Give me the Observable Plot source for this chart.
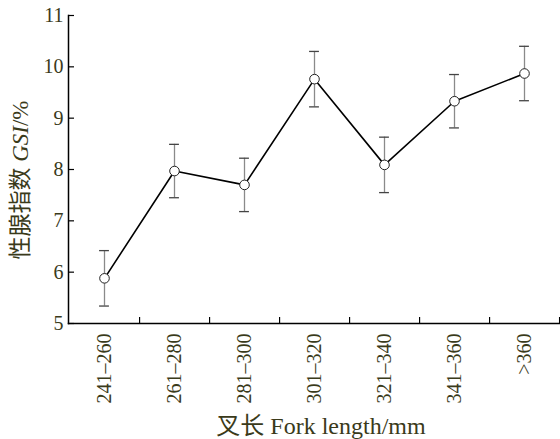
<!DOCTYPE html>
<html>
<head>
<meta charset="utf-8">
<script src="https://cdn.jsdelivr.net/npm/d3@7"></script>
<script src="https://cdn.jsdelivr.net/npm/@observablehq/plot@0.6"></script>
<style>
  html, body { margin: 0; padding: 0; background: #fff; }
  #chart { width: 560px; height: 439px; }
  #chart svg, #chart svg text { font-family: "Times New Roman", Times, "Liberation Serif", serif, "Noto Sans CJK SC" !important; }
</style>
</head>
<body>
<div id="chart"></div>
<script>
const categories = ["241–260", "261–280", "281–300", "301–320", "321–340", "341–360", ">360"];
const gsi = [5.88, 7.97, 7.70, 9.76, 8.09, 9.33, 9.87];
const sd = [0.54, 0.52, 0.52, 0.54, 0.54, 0.52, 0.53];
const yTicks = [5, 6, 7, 8, 9, 10, 11];

const data = categories.map((c, i) => ({cat: c, v: gsi[i], lo: gsi[i] - sd[i], hi: gsi[i] + sd[i]}));

const W = 560, H = 439, mL = 68, mR = 1, mT = 15, mB = 116;
const step = (W - mL - mR) / categories.length;
const textColor = "#3a3a1a";
const serif = "'Times New Roman', Times, 'Liberation Serif', serif, 'Noto Sans CJK SC'";

const chart = Plot.plot({
  width: W,
  height: H,
  marginLeft: mL,
  marginRight: mR,
  marginTop: mT,
  marginBottom: mB,
  style: {fontSize: "20px", color: textColor, background: "#fff"},
  x: {domain: categories, padding: 0, label: null},
  y: {domain: [5, 11], label: null},
  marks: [
    Plot.axisY({ticks: yTicks, tickSize: 6, dx: 6, fill: "none", label: null, stroke: "#000", strokeWidth: 1.2}),
    Plot.axisY({ticks: yTicks, tickFormat: "d", tickSize: 0, tickPadding: 5, label: null, fill: textColor, fontSize: 20, fontFamily: serif}),
    Plot.axisX({ticks: categories, tickSize: 6, dx: step / 2, dy: -6, fill: "none", label: null, stroke: "#000", strokeWidth: 1.2}),
    Plot.axisX({ticks: categories, tickSize: 0, tickPadding: 10, tickRotate: -90, label: null, fill: textColor, fontSize: 20, fontFamily: serif}),
    Plot.frame({anchor: "left", stroke: "#000", strokeWidth: 1.5}),
    Plot.frame({anchor: "bottom", stroke: "#000", strokeWidth: 1.5}),
    Plot.ruleX(data, {x: "cat", y1: "lo", y2: "hi", stroke: "#8a8a8a", strokeWidth: 1.3}),
    Plot.tickY(data, {x: "cat", y: "hi", inset: step / 2 - 5, stroke: "#444", strokeWidth: 1.3}),
    Plot.tickY(data, {x: "cat", y: "lo", inset: step / 2 - 5, stroke: "#444", strokeWidth: 1.3}),
    Plot.line(data, {x: "cat", y: "v", stroke: "#000", strokeWidth: 1.6}),
    Plot.dot(data, {x: "cat", y: "v", r: 4.8, fill: "#fff", stroke: "#222", strokeWidth: 1})
  ]
});

const svg = d3.select(chart);
const yt = svg.append("text")
  .attr("transform", "translate(28,180) rotate(-90)")
  .attr("text-anchor", "middle")
  .attr("fill", textColor)
  .style("font-family", serif)
  .style("font-size", "23px");
yt.append("tspan").text("性腺指数 ");
yt.append("tspan").attr("font-style", "italic").text("GSI");
yt.append("tspan").text("/%");

svg.append("text")
  .attr("x", 321)
  .attr("y", 434)
  .attr("text-anchor", "middle")
  .attr("fill", textColor)
  .style("font-family", serif)
  .style("font-size", "24px")
  .text("叉长 Fork length/mm");

document.getElementById("chart").appendChild(chart);
</script>
</body>
</html>
